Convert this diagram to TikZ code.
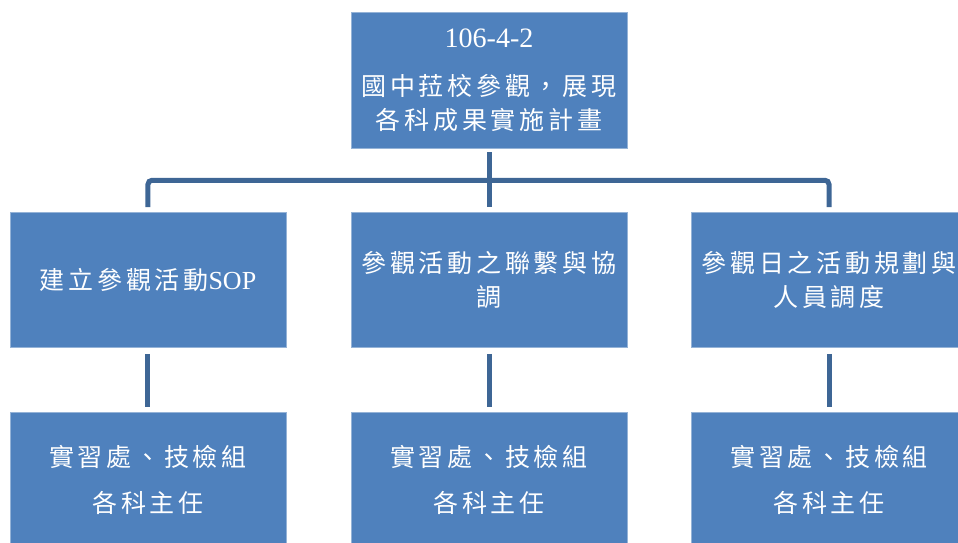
\documentclass[tikz,border=0pt]{standalone}
\usepackage{fontspec}
\setmainfont{Liberation Serif}[Scale=1.04]
\newfontfamily\cjk[LetterSpace=15]{Noto Sans CJK TC}
\usepackage{tikz}
\definecolor{boxblue}{HTML}{4F81BD}
\definecolor{linkblue}{HTML}{3E6695}
\tikzset{%
            base/.style = {rectangle, draw=boxblue!60!white, line width=0.6pt,
                           fill=boxblue, text=white, inner xsep=2pt,
                           minimum width=276pt, minimum height=135pt,
                           text centered, font=\cjk\fontsize{25}{34}\selectfont},
  box0/.style = {base, minimum height=136pt, align=center},
  box1/.style = {base, align=center},
  link/.style = {draw=linkblue, line width=5pt, rounded corners=4pt},
}
\begin{document}
\begin{tikzpicture}[node distance=200pt, x=1pt, y=1pt]

  \clip (-489,-463) rectangle (469,80);

  \node (onPlan)     [box0]                                   {{\rmfamily\fontsize{27}{34}\selectfont 106-4-2}\\[14pt]國中菈校參觀，展現\\各科成果實施計畫};
  \node (onLiaison)  [box1, below of=onPlan                ]  {參觀活動之聯繫與協\\調};
  \node (onSOP)      [box1, below of=onPlan, xshift=-341pt ]  {建立參觀活動{\rmfamily SOP}};
  \node (onSchedule) [box1, below of=onPlan, xshift= 340pt ]  {參觀日之活動規劃與\\人員調度};
  \node (onTeam_1)   [box1, below of=onSOP     ]  {實習處、技檢組\\[12pt]各科主任};
  \node (onTeam_2)   [box1, below of=onLiaison ]  {實習處、技檢組\\[12pt]各科主任};
  \node (onTeam_3)   [box1, below of=onSchedule]  {實習處、技檢組\\[12pt]各科主任};

  \coordinate (bus) at ([yshift=-32pt]onPlan.south);

  \draw[link, shorten <=4pt] (onPlan.south) -- (bus);
  \draw[link, shorten >=5pt] (bus) -- (onLiaison.north);
  \draw[link, shorten >=5pt] (bus) -| (onSOP.north);
  \draw[link, shorten >=5pt] (bus) -| (onSchedule.north);
  \draw[link, shorten <=6pt, shorten >=5pt] (onSOP)      -- (onTeam_1);
  \draw[link, shorten <=6pt, shorten >=5pt] (onLiaison)  -- (onTeam_2);
  \draw[link, shorten <=6pt, shorten >=5pt] (onSchedule) -- (onTeam_3);
  \end{tikzpicture}
\end{document}
